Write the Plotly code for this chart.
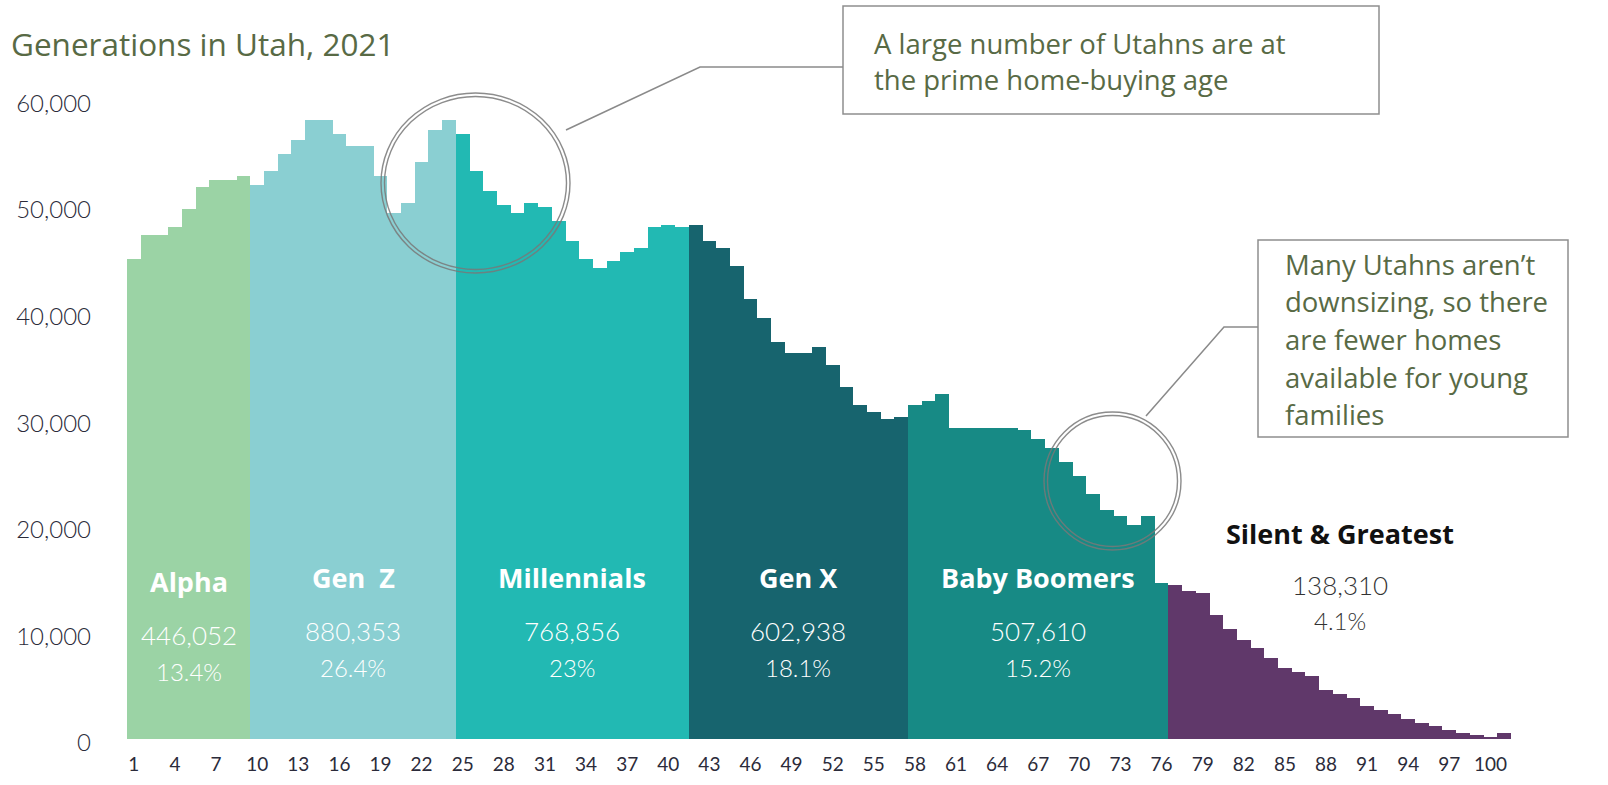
import plotly.graph_objects as go

# ---------------- data ----------------
ages = list(range(1, 102))
population = [
    # Alpha
    45000, 47300, 47300, 48000, 49700, 51800, 52400, 52400, 52800,
    # Gen Z
    52000, 53300, 54900, 56200, 58100, 58100, 56700, 55600, 55600, 52800,
    49300, 50300, 54100, 57100, 58100,
    # Millennials
    56700, 53300, 51400, 50100, 49300, 50300, 49900, 48600, 46700, 45000,
    44200, 44800, 45700, 46100, 48000, 48200, 48000,
    # Gen X
    48200, 46700, 46100, 44400, 41300, 39500, 37200, 36200, 36200, 36800,
    35100, 33000, 31300, 30700, 30000, 30200,
    # Baby Boomers
    31300, 31700, 32400, 29200, 29200, 29200, 29200, 29200, 29000, 28100,
    27300, 26000, 24700, 23000, 21500, 20900, 20100, 20900, 14600,
    # Silent & Greatest
    14400, 13900, 13700, 11600, 10300, 9300, 8500, 7600, 6700, 6300,
    5900, 4600, 4200, 3800, 3100, 2700, 2300, 1900, 1500, 1200,
    800, 600, 400, 200, 600,
]

gen_names = ["Alpha", "Gen  Z", "Millennials", "Gen X", "Baby Boomers", "Silent & Greatest"]
gen_first_age = [1, 10, 25, 42, 58, 77]
gen_last_age = [9, 24, 41, 57, 76, 101]
gen_totals = ["446,052", "880,353", "768,856", "602,938", "507,610", "138,310"]
gen_shares = ["13.4%", "26.4%", "23%", "18.1%", "15.2%", "4.1%"]
gen_colors = ["#9BD3A5", "#8ACFD2", "#22B9B3", "#17646E", "#178A85", "#60386A"]

x_tick_ages = list(range(1, 101, 3))
y_tick_values = [0, 10000, 20000, 30000, 40000, 50000, 60000]

title_text = "Generations in Utah, 2021"
note_1_lines = ["A large number of Utahns are at", "the prime home-buying age"]
note_2_lines = ["Many Utahns aren\u2019t", "downsizing, so there", "are fewer homes",
                "available for young", "families"]

# ---------------- layout geometry (pixels) ----------------
W, H = 1608, 785
PL, PR, PT, PB = 127, 1511, 46, 739


def px(xp):
    return (xp - PL) / (PR - PL)


def py(yp):
    return (PB - yp) / (PB - PT)


fig = go.Figure()

for name, a0, a1, col in zip(gen_names, gen_first_age, gen_last_age, gen_colors):
    xs = [a for a in ages if a0 <= a <= a1]
    ys = [population[ages.index(a)] for a in xs]
    fig.add_trace(go.Bar(x=xs, y=ys, name=name, width=1.0,
                         marker=dict(color=col, line=dict(width=0)),
                         showlegend=False, hoverinfo="x+y"))

annotations = []
shapes = []

TEXT_GREEN = "#586A45"
NAME_FONT = "Open Sans"
NUM_FONT = "Lato"

# title
annotations.append(dict(xref="paper", yref="paper", x=px(9), y=py(43), xanchor="left",
                        yanchor="middle", text=title_text, showarrow=False,
                        font=dict(family="Open Sans", size=31.5, color=TEXT_GREEN)))

# generation labels
for i, (name, a0, a1) in enumerate(zip(gen_names, gen_first_age, gen_last_age)):
    cx = (a0 + a1) / 2
    if i == len(gen_names) - 1:
        ny, vy, sy = 533, 585, 620
        cname, cval = "#111111", "#333333"
    else:
        off = 4 if i == 0 else 0
        ny, vy, sy = 577 + off, 631 + off, 667 + off
        cname, cval = "#FFFFFF", "#FFFFFF"
    annotations.append(dict(xref="x", yref="paper", x=cx, y=py(ny), text="<b>%s</b>" % name,
                            showarrow=False, xanchor="center", yanchor="middle",
                            font=dict(family=NAME_FONT, size=27, color=cname)))
    annotations.append(dict(xref="x", yref="paper", x=cx, y=py(vy), text=gen_totals[i],
                            showarrow=False, xanchor="center", yanchor="middle",
                            font=dict(family=NUM_FONT, size=26, color=cval, weight=300)))
    annotations.append(dict(xref="x", yref="paper", x=cx, y=py(sy), text=gen_shares[i],
                            showarrow=False, xanchor="center", yanchor="middle",
                            font=dict(family=NUM_FONT, size=24, color=cval, weight=300)))

# note boxes
BOX_LINE = "#8E8E8E"
shapes.append(dict(type="rect", xref="paper", yref="paper", x0=px(843), x1=px(1379),
                   y0=py(114), y1=py(6), line=dict(color=BOX_LINE, width=1.5),
                   fillcolor="white", layer="above"))
for j, ln in enumerate(note_1_lines):
    annotations.append(dict(xref="paper", yref="paper", x=px(872), y=py(44 + 36 * j),
                            xanchor="left", yanchor="middle", text=ln, showarrow=False,
                            font=dict(family="Open Sans", size=27.5, color=TEXT_GREEN)))

shapes.append(dict(type="rect", xref="paper", yref="paper", x0=px(1258), x1=px(1568),
                   y0=py(437), y1=py(240), line=dict(color=BOX_LINE, width=1.5),
                   fillcolor="white", layer="above"))
for j, ln in enumerate(note_2_lines):
    annotations.append(dict(xref="paper", yref="paper", x=px(1283), y=py(264 + 37.7 * j),
                            xanchor="left", yanchor="middle", text=ln, showarrow=False,
                            font=dict(family="Open Sans", size=27.5, color=TEXT_GREEN)))

# connectors
CONN = "#8A8A8A"
for pts in ([(843, 67), (700, 67), (566, 130)], [(1258, 327), (1224, 327), (1146, 416)]):
    path = "M %f %f" % (px(pts[0][0]), py(pts[0][1]))
    for (a, b) in pts[1:]:
        path += " L %f %f" % (px(a), py(b))
    shapes.append(dict(type="path", xref="paper", yref="paper", path=path,
                       line=dict(color=CONN, width=1.5), layer="above"))

# magnifier rings (double line)
RING = "rgba(120,120,120,0.85)"
for (x0, x1, y0, y1) in [(381, 570, 93, 273), (1044, 1181, 412, 550)]:
    for inset in (0, 3.5):
        shapes.append(dict(type="circle", xref="paper", yref="paper",
                           x0=px(x0 + inset), x1=px(x1 - inset),
                           y0=py(y1 - inset), y1=py(y0 + inset),
                           line=dict(color=RING, width=1.4), layer="above"))

fig.update_layout(
    width=W, height=H,
    margin=dict(l=PL, r=W - PR, t=PT, b=H - PB),
    paper_bgcolor="white", plot_bgcolor="white",
    bargap=0, barmode="overlay",
    annotations=annotations, shapes=shapes,
    xaxis=dict(range=[0.5, 101.5], tickmode="array", tickvals=x_tick_ages,
               ticktext=[str(a) for a in x_tick_ages], showgrid=False, zeroline=False,
               showline=False, ticks="", ticklabelstandoff=12, automargin=False,
               tickfont=dict(family=NUM_FONT, size=19, color="#2B2B3A")),
    yaxis=dict(range=[0, 65000], tickmode="array", tickvals=y_tick_values,
               tickformat=",", showgrid=False, zeroline=False, showline=False, ticks="",
               ticklabelstandoff=35, ticklabelshift=4, automargin=False,
               tickfont=dict(family=NUM_FONT, size=24, color="#2B2B3A", weight=300)),
)

fig.write_html("out.html",
               config={"displayModeBar": False},
               post_script="document.body.style.margin='0px';"
                           "document.body.style.overflow='hidden';")
